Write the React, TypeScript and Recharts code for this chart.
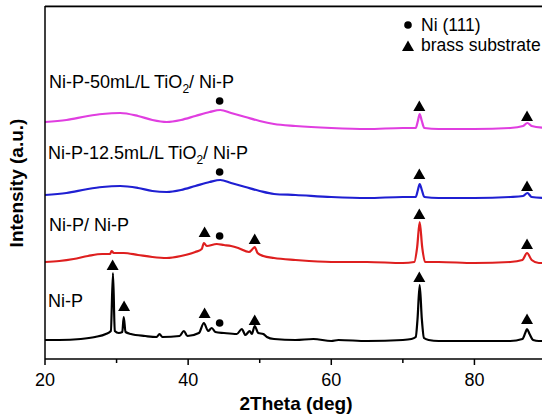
import React from 'react';
import { ComposedChart, Line, Scatter, XAxis, YAxis } from 'recharts';

// 2Theta (deg) vs offset intensity (a.u.)
const niP: [number, number][] = [
  [20, 19], [22, 19], [25, 20], [27, 22], [28.5, 25], [29.2, 28], [29.5, 86], [29.75, 28],
  [30.3, 26], [30.8, 27], [31.0, 42], [31.25, 27], [32, 25], [34, 23], [35.6, 22], [36.0, 25],
  [36.4, 22], [38.8, 23], [39.4, 28], [39.9, 23], [41.5, 26], [42.2, 36], [42.8, 28], [43.3, 31],
  [43.8, 27], [45, 26], [46.8, 25], [47.5, 30], [48.0, 24], [48.6, 28], [48.9, 25], [49.3, 33],
  [49.8, 26], [50.5, 25], [51, 22], [52, 20], [55, 19], [57.5, 20], [60, 18], [61, 19],
  [65, 18], [70, 19], [71.2, 20], [71.8, 22], [72.05, 40], [72.35, 74], [72.65, 40], [72.95, 21],
  [73.6, 19], [75, 18], [80, 18], [85, 18], [86.7, 20], [87.1, 26], [87.35, 30], [87.7, 25],
  [88.2, 19], [89, 18], [90, 18],
];

const niPNiP: [number, number][] = [
  [20, 97], [22, 98], [24, 100], [26, 103], [28, 105], [29.1, 105], [29.3, 108], [29.6, 106],
  [31, 106], [33, 104], [35, 102], [37, 101], [39, 103], [41, 107], [41.9, 110], [42.2, 116],
  [42.6, 113], [44, 115], [45, 114], [46, 113], [47, 111], [48.5, 107], [49.0, 110], [49.3, 112],
  [49.7, 106], [50.5, 103], [52, 101], [55, 99], [60, 97], [65, 97], [70, 96], [71.6, 97],
  [72.0, 112], [72.35, 137], [72.7, 112], [73.1, 97], [75, 97], [80, 96], [85, 97], [86.7, 99],
  [87.35, 106], [88.0, 99], [89, 96], [90, 96],
];

const niP125TiO2: [number, number][] = [
  [20, 164], [23, 166], [26, 170], [28, 172], [30.5, 173], [33, 171], [35, 168], [37, 167],
  [39, 169], [41, 173], [43, 177], [44.5, 179], [46, 176], [48, 172], [50, 168], [52, 165],
  [55, 164], [60, 162], [65, 161], [70, 162], [71.8, 162], [72.1, 169], [72.35, 175], [72.65, 169],
  [73.0, 162], [75, 161], [80, 161], [85, 162], [86.8, 163], [87.4, 166], [88, 162], [90, 161],
];

const niP50TiO2: [number, number][] = [
  [20, 237], [23, 239], [26, 243], [28, 245], [30.5, 246], [33, 243], [35, 239], [37, 237],
  [39, 239], [41, 243], [43, 247], [44.5, 249], [46, 246], [48, 242], [50, 238], [52, 235],
  [55, 233], [60, 231], [65, 230], [70, 231], [71.8, 231], [72.1, 238], [72.35, 245], [72.65, 238],
  [73.0, 231], [75, 230], [80, 230], [85, 231], [86.8, 233], [87.4, 236], [88, 233], [90, 231],
];

// peak markers: brass substrate (triangles) and Ni (111) (dots)
const brassMarks: [number, number][] = [
  [29.45, 94], [31.05, 53], [42.3, 46], [49.3, 39], [72.3, 82], [87.35, 40],
  [42.3, 127], [49.3, 120], [72.3, 145], [87.35, 115],
  [72.3, 185], [87.35, 173],
  [72.3, 253], [87.35, 243],
];
const niMarks: [number, number][] = [
  [44.4, 36], [44.4, 123], [44.4, 187], [44.4, 258],
];

const majorTicks = [20, 40, 60, 80];
const allTicks = [20, 30, 40, 50, 60, 70, 80];

const FONT = '"Liberation Sans", Arial, sans-serif';

const toPts = (arr: [number, number][]) => arr.map(([x, y]) => ({ x, y }));

const Triangle = (props: any) => {
  const { cx, cy } = props;
  return <polygon points={`${cx - 6},${cy + 5} ${cx + 6},${cy + 5} ${cx},${cy - 5.5}`} fill="#000" />;
};

const Dot = (props: any) => {
  const { cx, cy } = props;
  return <circle cx={cx} cy={cy} r={3.8} fill="#000" />;
};

const XTick = (props: any) => {
  const { x, y, payload } = props;
  const major = majorTicks.includes(payload.value);
  return (
    <g>
      <line x1={x} y1={y} x2={x} y2={y + (major ? 6 : 4)} stroke="#000" strokeWidth={1.5} />
      {major && (
        <text x={x} y={y + 27} textAnchor="middle" fontSize={18} fontFamily={FONT} fill="#000">
          {payload.value}
        </text>
      )}
    </g>
  );
};

const SeriesLabel = ({ x, y, pre, post }: { x: number; y: number; pre: string; post?: string }) => (
  <text x={x} y={y} fontSize={18} fontFamily={FONT} fill="#000">
    {pre}
    {post !== undefined && (
      <>
        <tspan dy={5} fontSize={12}>2</tspan>
        <tspan dy={-5}>{post}</tspan>
      </>
    )}
  </text>
);

export default function App() {
  return (
    <div style={{ position: 'fixed', left: 0, top: 0, width: 542, height: 419, overflow: 'hidden', background: '#fff' }}>
      <ComposedChart width={560} height={419} margin={{ top: 6, right: 14, bottom: 0, left: 0 }}>
        <XAxis
          dataKey="x"
          type="number"
          domain={[20, 90]}
          ticks={allTicks}
          tick={<XTick />}
          tickLine={false}
          tickSize={0}
          tickMargin={0}
          height={60}
          axisLine={{ stroke: '#000', strokeWidth: 1.5 }}
          allowDataOverflow
        />
        <YAxis
          type="number"
          domain={[0, 353]}
          width={45}
          tick={false}
          tickLine={false}
          axisLine={{ stroke: '#000', strokeWidth: 1.5 }}
          allowDataOverflow
        />
        <Line data={toPts(niP)} dataKey="y" type="monotone" stroke="#000000" strokeWidth={2.2} dot={false} isAnimationActive={false} />
        <Line data={toPts(niPNiP)} dataKey="y" type="monotone" stroke="#de1f1f" strokeWidth={2.2} dot={false} isAnimationActive={false} />
        <Line data={toPts(niP125TiO2)} dataKey="y" type="monotone" stroke="#1f1fd2" strokeWidth={2.2} dot={false} isAnimationActive={false} />
        <Line data={toPts(niP50TiO2)} dataKey="y" type="monotone" stroke="#e03ee0" strokeWidth={2.2} dot={false} isAnimationActive={false} />
        <Scatter data={toPts(brassMarks)} dataKey="y" shape={<Triangle />} isAnimationActive={false} />
        <Scatter data={toPts(niMarks)} dataKey="y" shape={<Dot />} isAnimationActive={false} />
      </ComposedChart>
      <svg width={542} height={419} style={{ position: 'absolute', left: 0, top: 0, pointerEvents: 'none' }}>
        {/* top frame line */}
        <rect x={45} y={5.5} width={510} height={1.8} fill="#000" />

        <SeriesLabel x={49} y={88} pre="Ni-P-50mL/L TiO" post="/ Ni-P" />
        <SeriesLabel x={48} y={159} pre="Ni-P-12.5mL/L TiO" post="/ Ni-P" />
        <SeriesLabel x={49} y={231} pre="Ni-P/ Ni-P" />
        <SeriesLabel x={48} y={307} pre="Ni-P" />

        <circle cx={408} cy={25} r={3.8} fill="#000" />
        <text x={421} y={31} fontSize={17.5} fontFamily={FONT} fill="#000">Ni (111)</text>
        <polygon points="402,51 414,51 408,40.5" fill="#000" />
        <text x={421} y={51} fontSize={17.5} fontFamily={FONT} fill="#000">brass substrate</text>

        <text x={296} y={410} textAnchor="middle" fontSize={19} fontWeight="bold" fontFamily={FONT} fill="#000">
          2Theta (deg)
        </text>
        <text
          x={0}
          y={0}
          transform="translate(23,183) rotate(-90)"
          textAnchor="middle"
          fontSize={19}
          fontWeight="bold"
          fontFamily={FONT}
          fill="#000"
        >
          Intensity (a.u.)
        </text>
      </svg>
    </div>
  );
}
